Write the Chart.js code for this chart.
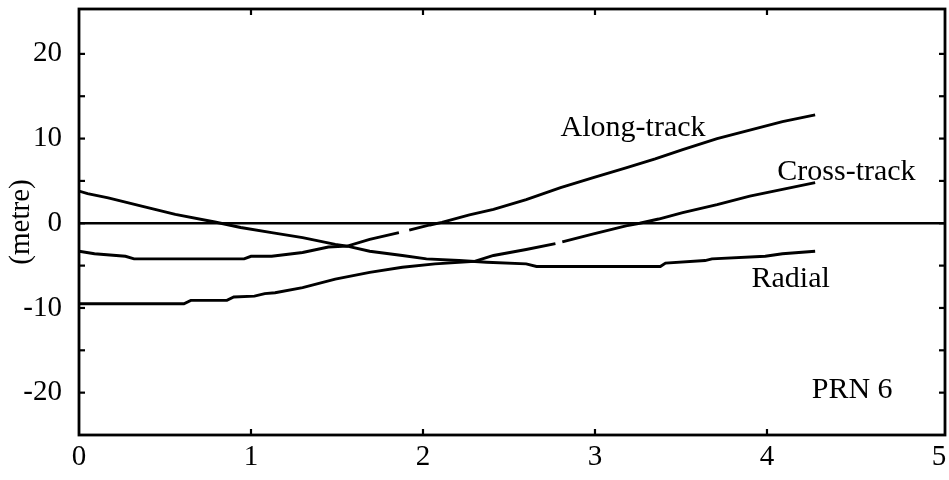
<!DOCTYPE html>
<html>
<head>
<meta charset="utf-8">
<script src="https://cdn.jsdelivr.net/npm/chart.js@4/dist/chart.umd.min.js"></script>
<style>
  html, body { margin: 0; padding: 0; background: #ffffff; }
  #wrap { width: 949px; height: 480px; }
</style>
</head>
<body>
<div id="wrap"><canvas id="c" width="949" height="480"></canvas></div>
<script>
// ---- data ----
const xTicks = [0, 1, 2, 3, 4, 5];
const yTicks = [-20, -10, 0, 10, 20];
const yMinorTicks = [-20, -15, -10, -5, 0, 5, 10, 15, 20];

const alongX = [0, 0.05, 0.17, 0.37, 0.56, 0.79, 0.94, 1.12, 1.30, 1.49, 1.56, 1.69, 1.86, 1.89, 1.92, 2.04, 2.11, 2.27, 2.41, 2.60, 2.80, 2.99, 3.18, 3.35, 3.51, 3.71, 3.90, 4.09, 4.28];
const alongY = [3.8, 3.5, 3.0, 2.0, 1.05, 0.15, -0.5, -1.1, -1.7, -2.5, -2.7, -1.9, -1.1, null, -0.8, -0.2, 0.1, 1.0, 1.65, 2.8, 4.2, 5.4, 6.55, 7.6, 8.7, 10.0, 11.0, 12.0, 12.8];

const crossX = [0, 0.61, 0.65, 0.86, 0.90, 1.02, 1.08, 1.14, 1.30, 1.49, 1.69, 1.88, 2.07, 2.30, 2.41, 2.60, 2.77, 2.79, 2.81, 2.98, 3.18, 3.26, 3.37, 3.51, 3.71, 3.90, 4.09, 4.28];
const crossY = [-9.5, -9.5, -9.1, -9.1, -8.7, -8.6, -8.3, -8.2, -7.6, -6.6, -5.8, -5.2, -4.8, -4.5, -3.8, -3.1, -2.4, null, -2.2, -1.3, -0.3, 0.0, 0.5, 1.26, 2.2, 3.2, 4.0, 4.8];

const radialX = [0, 0.09, 0.27, 0.32, 0.96, 1.00, 1.12, 1.30, 1.45, 1.56, 1.69, 1.88, 2.02, 2.21, 2.37, 2.60, 2.66, 3.38, 3.41, 3.64, 3.68, 3.99, 4.09, 4.28];
const radialY = [-3.3, -3.6, -3.9, -4.2, -4.2, -3.9, -3.9, -3.45, -2.8, -2.7, -3.3, -3.8, -4.2, -4.4, -4.6, -4.8, -5.1, -5.1, -4.7, -4.4, -4.2, -3.9, -3.6, -3.3];

const seriesLabels = ['Along-track', 'Cross-track', 'Radial'];
const yTitle = '(metre)';
const plotTag = 'PRN 6';

// ---- build ----
const zip = (xs, ys) => xs.map((x, i) => ({ x: x, y: ys[i] }));
const FONT = '"Liberation Serif", "Times New Roman", serif';

const lineStyle = {
  borderColor: '#000', borderWidth: 2.9, pointRadius: 0, tension: 0,
  fill: false, spanGaps: false, showLine: true
};

const framePlugin = {
  id: 'frame',
  afterDraw(chart) {
    const { ctx, chartArea: a, scales } = chart;
    const xs = scales.x, ys = scales.y;
    ctx.save();
    ctx.strokeStyle = '#000';
    // zero line
    ctx.lineWidth = 2.4;
    const y0 = ys.getPixelForValue(0);
    ctx.beginPath(); ctx.moveTo(a.left, y0); ctx.lineTo(a.right, y0); ctx.stroke();
    // inward ticks
    ctx.lineWidth = 2.2;
    const tl = 6;
    yMinorTicks.forEach(v => {
      const p = ys.getPixelForValue(v);
      ctx.beginPath(); ctx.moveTo(a.left, p); ctx.lineTo(a.left + tl, p); ctx.stroke();
      ctx.beginPath(); ctx.moveTo(a.right, p); ctx.lineTo(a.right - tl, p); ctx.stroke();
    });
    xTicks.slice(1, -1).forEach(v => {
      const p = xs.getPixelForValue(v);
      ctx.beginPath(); ctx.moveTo(p, a.bottom); ctx.lineTo(p, a.bottom - tl); ctx.stroke();
      ctx.beginPath(); ctx.moveTo(p, a.top); ctx.lineTo(p, a.top + tl); ctx.stroke();
    });
    // frame
    ctx.lineWidth = 2.8;
    ctx.strokeRect(a.left, a.top, a.right - a.left, a.bottom - a.top);
    // text annotations
    ctx.fillStyle = '#000';
    ctx.font = '30px ' + FONT;
    ctx.textBaseline = 'middle';
    ctx.textAlign = 'left';
    ctx.fillText(seriesLabels[0], xs.getPixelForValue(2.8), ys.getPixelForValue(11.2));
    ctx.fillText(seriesLabels[1], xs.getPixelForValue(4.06), ys.getPixelForValue(6.0));
    ctx.fillText(seriesLabels[2], xs.getPixelForValue(3.91), ys.getPixelForValue(-6.6));
    ctx.fillText(plotTag, xs.getPixelForValue(4.26), ys.getPixelForValue(-19.7));
    ctx.restore();
  }
};

new Chart(document.getElementById('c'), {
  type: 'scatter',
  data: {
    datasets: [
      Object.assign({ label: seriesLabels[0], data: zip(alongX, alongY) }, lineStyle),
      Object.assign({ label: seriesLabels[1], data: zip(crossX, crossY) }, lineStyle),
      Object.assign({ label: seriesLabels[2], data: zip(radialX, radialY) }, lineStyle)
    ]
  },
  options: {
    responsive: false,
    animation: false,
    layout: { padding: { top: 9, right: 4, left: 0, bottom: 0 } },
    plugins: { legend: { display: false }, tooltip: { enabled: false } },
    scales: {
      x: {
        type: 'linear', min: 0, max: 5.035,
        afterBuildTicks: s => { s.ticks = xTicks.map(v => ({ value: v })); },
        afterFit: s => { s.height = 45; s.paddingLeft = 0; s.paddingRight = 0; },
        grid: { display: false, drawTicks: false },
        border: { display: false },
        ticks: { color: '#000', font: { family: FONT, size: 29 }, padding: 5, maxRotation: 0 }
      },
      y: {
        type: 'linear', min: -25, max: 25.3,
        afterBuildTicks: s => { s.ticks = yTicks.map(v => ({ value: v })); },
        afterFit: s => { s.width = 79; s.paddingTop = 0; s.paddingBottom = 0; },
        grid: { display: false, drawTicks: false },
        border: { display: false },
        title: { display: true, text: yTitle, color: '#000', font: { family: FONT, size: 29 }, padding: { top: 4, bottom: 0 } },
        ticks: { color: '#000', font: { family: FONT, size: 29 }, padding: 17 }
      }
    }
  },
  plugins: [framePlugin]
});
</script>
</body>
</html>
